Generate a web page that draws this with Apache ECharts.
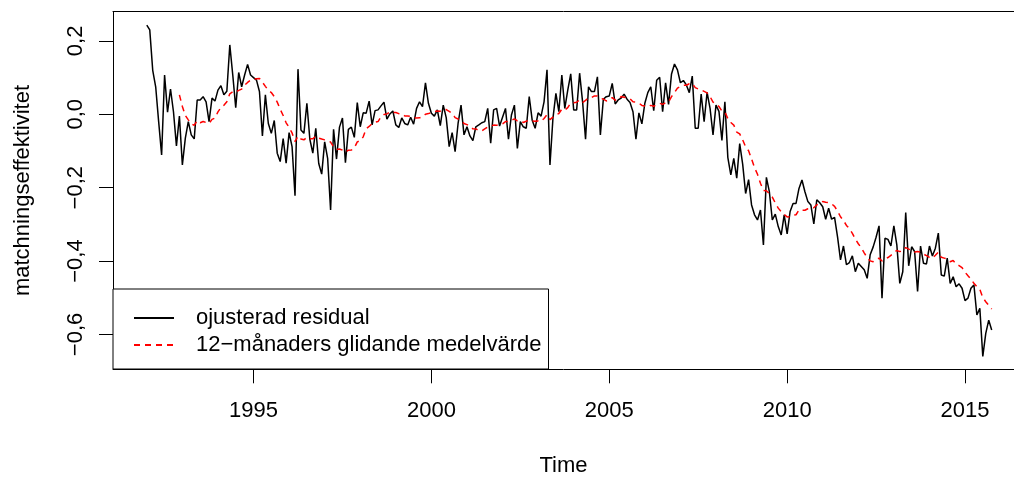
<!DOCTYPE html>
<html>
<head>
<meta charset="UTF-8">
<title>matchningseffektivitet</title>
<script src="https://cdn.jsdelivr.net/npm/echarts@6/dist/echarts.min.js"></script>
<style>
  html, body { margin: 0; padding: 0; background: #fff; }
  #main { width: 1014px; height: 477px; }
</style>
</head>
<body>
<div id="main"></div>
<script>
// monthly series, starts jan 1992
var startYear = 1992;
var residual = [
    0.243, 0.23, 0.12, 0.075, -0.02, -0.111, 0.107, 0.006, 0.069, 0.007, -0.086, -0.005,
    -0.138, -0.065, -0.02, -0.056, -0.067, 0.039, 0.039, 0.048, 0.034, -0.02, 0.044, 0.036,
    0.066, 0.078, 0.053, 0.063, 0.189, 0.107, 0.018, 0.114, 0.075, 0.107, 0.136, 0.107,
    0.1, 0.093, 0.062, -0.059, 0.053, -0.025, -0.052, -0.017, -0.106, -0.129, -0.066, -0.133,
    -0.05, -0.088, -0.222, 0.123, -0.043, -0.052, 0.03, -0.068, -0.106, -0.038, -0.134, -0.163,
    -0.075, -0.12, -0.261, -0.041, -0.122, -0.035, -0.01, -0.132, -0.041, -0.035, -0.063, 0.032,
    -0.034, 0.004, 0.003, 0.036, -0.029, 0.01, 0.012, 0.023, 0.033, -0.013, 0.001, 0.009,
    -0.029, -0.036, -0.01, -0.025, -0.029, -0.008, -0.027, 0.016, 0.034, 0.021, 0.086, 0.03,
    0.003, -0.005, 0.012, -0.031, 0.025, -0.009, -0.088, -0.05, -0.102, -0.025, 0.025, -0.056,
    -0.034, -0.059, -0.072, -0.034, -0.029, -0.023, -0.02, 0.016, -0.079, 0.012, 0.016, -0.032,
    -0.008, 0.016, -0.068, -0.002, 0.025, -0.093, -0.02, -0.034, -0.038, 0.048, -0.016, -0.038,
    0.004, -0.005, 0.034, 0.121, -0.138, -0.011, 0.057, 0.007, 0.107, 0.016, 0.066, 0.11,
    0.012, 0.012, 0.112, 0.034, -0.068, 0.075, 0.062, 0.062, 0.102, -0.056, 0.041, 0.048,
    0.05, 0.084, 0.028, 0.039, 0.044, 0.055, 0.041, 0.032, 0.007, -0.068, 0.004, -0.026,
    0.03, 0.059, 0.075, 0.01, 0.093, 0.101, 0.007, 0.086, 0.027, 0.11, 0.137, 0.121,
    0.086, 0.092, 0.08, 0.059, 0.104, -0.038, -0.038, 0.055, -0.02, 0.06, 0.016, -0.056,
    0.025, 0.008, -0.071, 0.034, -0.118, -0.165, -0.12, -0.174, -0.08, -0.136, -0.216, -0.178,
    -0.247, -0.274, -0.288, -0.261, -0.356, -0.172, -0.211, -0.288, -0.272, -0.306, -0.329, -0.274,
    -0.326, -0.265, -0.243, -0.243, -0.202, -0.179, -0.211, -0.238, -0.247, -0.299, -0.233, -0.241,
    -0.252, -0.286, -0.256, -0.286, -0.281, -0.334, -0.397, -0.359, -0.41, -0.404, -0.386, -0.429,
    -0.406, -0.415, -0.424, -0.447, -0.383, -0.362, -0.335, -0.304, -0.501, -0.338, -0.341, -0.359,
    -0.304, -0.356, -0.461, -0.429, -0.268, -0.413, -0.361, -0.374, -0.483, -0.359, -0.406, -0.408,
    -0.359, -0.386, -0.365, -0.324, -0.438, -0.441, -0.392, -0.461, -0.443, -0.47, -0.462, -0.474,
    -0.508, -0.501, -0.474, -0.465, -0.547, -0.529, -0.66, -0.597, -0.561, -0.588
];
var xTicks = [1995, 2000, 2005, 2010, 2015];
var yTicks = [-0.6, -0.4, -0.2, 0, 0.2];
var seriesNames = ['ojusterad residual', '12\u2212månaders glidande medelvärde'];

var font = '"Liberation Sans", Arial, Helvetica, sans-serif';
var black = { color: '#000', width: 1 };

function toPoints(values) {
    return values.map(function(v, i) {
        return v === null ? null : [startYear + i / 12, v];
    }).filter(function(p) { return p });
}

// trailing 12 month mean, like filter(x, rep(1/12, 12), sides = 1)
function rollingMean(values, n) {
    return values.map(function(v, i) {
        if (i < n - 1) return null;
        var s = 0;
        for (var k = i - n + 1; k <= i; k++) s += values[k];
        return s / n;
    });
}

function fmtY(v) {
    var s = Math.abs(v).toFixed(1).replace('.', ',');
    return (v < -1e-9 ? '\u2212' : '') + s;
}

var chart = echarts.init(document.getElementById('main'), null, {renderer: 'canvas'});
var option = {
    backgroundColor: '#fff',
    animation: false,
    textStyle: { fontFamily: font },
    // the R plot is cut off on the right, so the box has no right side here
    grid: {
        left: 113,
        top: 11.7,
        right: 0,
        bottom: 107.7,
        outerBoundsMode: 'none'
    },
    xAxis: [{
        type: 'value',
        min: 1991.05,
        max: 2016.377,
        name: 'Time',
        nameLocation: 'middle',
        nameGap: 86,
        nameTextStyle: { fontSize: 22, color: '#000', fontFamily: font },
        axisLine: { show: true, onZero: false, lineStyle: black },
        axisTick: { show: true, length: 14, customValues: xTicks, lineStyle: black },
        axisLabel: {
            customValues: xTicks, margin: 31, fontSize: 22, color: '#000', fontFamily: font,
            formatter: function(v) { return String(v); }
        },
        splitLine: { show: false }
    }, {
        type: 'value',
        position: 'top',
        min: 1991.05,
        max: 2016.377,
        axisLine: { show: true, onZero: false, lineStyle: black },
        axisTick: { show: false },
        axisLabel: { show: false },
        splitLine: { show: false }
    }],
    yAxis: {
        type: 'value',
        min: -0.695,
        max: 0.2796,
        name: 'matchningseffektivitet',
        nameLocation: 'middle',
        nameRotate: 90,
        nameGap: 79,
        nameTextStyle: { fontSize: 22, color: '#000', fontFamily: font },
        axisLine: { show: true, onZero: false, lineStyle: black },
        axisTick: { show: true, length: 14, customValues: yTicks, lineStyle: black },
        axisLabel: { customValues: yTicks, rotate: 90, margin: 26, fontSize: 22, color: '#000', fontFamily: font, formatter: fmtY },
        splitLine: { show: false }
    },
    legend: {
        orient: 'vertical',
        left: 113,
        top: 289,
        padding: [18, 7, 13, 20],
        itemGap: 5,
        itemWidth: 40,
        itemHeight: 14,
        borderColor: '#000',
        borderWidth: 1,
        borderRadius: 0,
        backgroundColor: '#fff',
        itemStyle: { opacity: 0 },
        textStyle: { fontSize: 22, lineHeight: 22, color: '#000', fontFamily: font, padding: [0, 0, 0, 17] },
        data: seriesNames
    },
    series: [{
        name: seriesNames[0],
        type: 'line',
        data: toPoints(residual),
        showSymbol: false,
        symbol: 'none',
        lineStyle: { color: '#000', width: 1.5 },
        itemStyle: { color: '#000' }
    }, {
        name: seriesNames[1],
        type: 'line',
        data: toPoints(rollingMean(residual, 12)),
        showSymbol: false,
        symbol: 'none',
        lineStyle: { color: '#ff0000', width: 1.5, type: [6, 5] },
        itemStyle: { color: '#ff0000' }
    }]
};
chart.setOption(option);
</script>
</body>
</html>
